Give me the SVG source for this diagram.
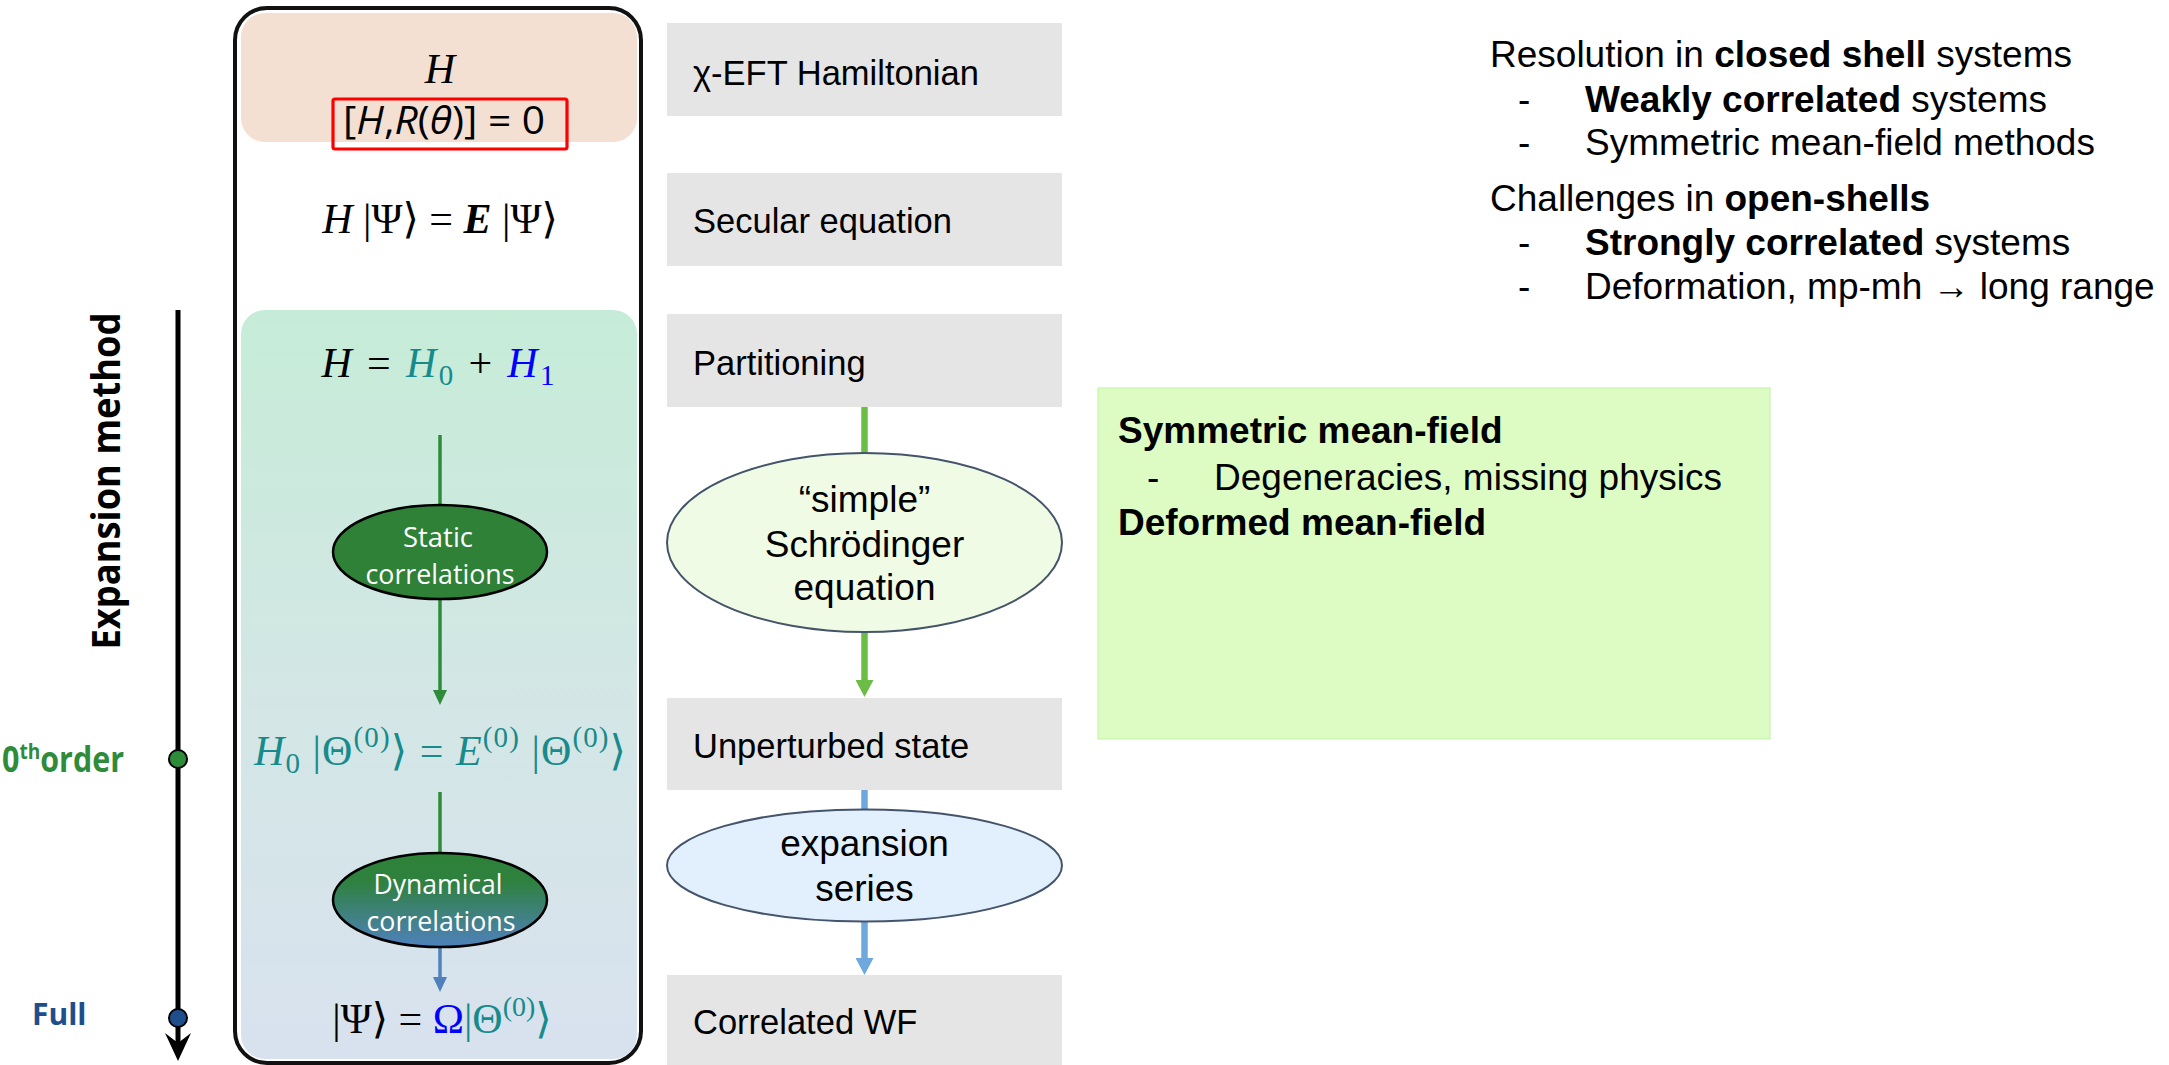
<svg xmlns="http://www.w3.org/2000/svg" width="2169" height="1065" viewBox="0 0 2169 1065">
  <style>
    .lbl{font-family:"Liberation Sans",Arial,sans-serif;font-size:34.5px;fill:#000}
    .gbox{fill:#e5e5e5}
    .ell{stroke:#44546a;stroke-width:2}
    .etxt{font-family:"Liberation Sans",Arial,sans-serif;font-size:37px;fill:#000;text-anchor:middle}
    .math{font-family:"Liberation Serif","DejaVu Serif",serif;font-size:42px;fill:#000;text-anchor:middle}
    .it{font-style:italic}
    .teal{fill:#178b8b}
    .blue{fill:#0000ff}
    .corr{font-family:"Open Sans","Liberation Sans",sans-serif;font-size:28px;fill:#fff;text-anchor:middle}
    .note{font-family:"Liberation Sans",Arial,sans-serif;font-size:37px;fill:#000}
    .b{font-weight:bold}
    .axl{font-family:"Open Sans","Liberation Sans",sans-serif;font-weight:bold}
  </style>
  <defs>
    <linearGradient id="innerGrad" x1="0" y1="0" x2="0" y2="1">
      <stop offset="0" stop-color="#c6ecd8"/>
      <stop offset="0.55" stop-color="#d4e6e6"/>
      <stop offset="1" stop-color="#d8e2ef"/>
    </linearGradient>
    <linearGradient id="dynGrad" x1="0" y1="0" x2="0" y2="1">
      <stop offset="0" stop-color="#2e8137"/>
      <stop offset="0.3" stop-color="#2f813f"/>
      <stop offset="1" stop-color="#4f81bd"/>
    </linearGradient>
    <marker id="mGreenDk" markerUnits="userSpaceOnUse" viewBox="0 0 15 14" markerWidth="15" markerHeight="14" refX="0" refY="7" orient="auto">
      <path d="M0,0 L15,7 L0,14 z" fill="#2e8b3a"/>
    </marker>
    <marker id="mBlueDk" markerUnits="userSpaceOnUse" viewBox="0 0 15 14" markerWidth="15" markerHeight="14" refX="0" refY="7" orient="auto">
      <path d="M0,0 L15,7 L0,14 z" fill="#4f81bd"/>
    </marker>
    <marker id="mGreenLt" markerUnits="userSpaceOnUse" viewBox="0 0 17 18" markerWidth="17" markerHeight="18" refX="0" refY="9" orient="auto">
      <path d="M0,0 L17,9 L0,18 z" fill="#6cbd45"/>
    </marker>
    <marker id="mBlueLt" markerUnits="userSpaceOnUse" viewBox="0 0 17 18" markerWidth="17" markerHeight="18" refX="0" refY="9" orient="auto">
      <path d="M0,0 L17,9 L0,18 z" fill="#6fa8dc"/>
    </marker>
  </defs>

  <!-- method panel background -->
  <g id="method-panel">
    <rect x="235" y="8" width="406" height="1055" rx="32" fill="#fff" stroke="#111" stroke-width="4"/>
    <rect x="241" y="13" width="396" height="129" rx="24" fill="#f3e0d2"/>
    <rect x="241" y="310" width="396" height="749" rx="24" fill="url(#innerGrad)"/>
  </g>

  <!-- expansion axis -->
  <g id="axis">
    <line x1="178" y1="310" x2="178" y2="1045" stroke="#000" stroke-width="5"/>
    <path d="M165,1033 L178,1061 L191,1033 L178,1043 z" fill="#000"/>
    <text class="axl" x="120" y="481" font-size="40" text-anchor="middle" textLength="337" lengthAdjust="spacingAndGlyphs" transform="rotate(-90 120 481)">Expansion method</text>
  </g>
  <g id="order-zero">
    <circle cx="178" cy="759" r="9" fill="#2e8b3a" stroke="#000" stroke-width="2"/>
    <text class="axl" x="2" y="772" font-size="35" fill="#2e8b3a" textLength="122" lengthAdjust="spacingAndGlyphs">0<tspan font-size="22" dy="-13">th</tspan><tspan dy="13">order</tspan></text>
  </g>
  <g id="order-full">
    <circle cx="178" cy="1018" r="9" fill="#1f4e8c" stroke="#000" stroke-width="2"/>
    <text class="axl" x="32" y="1025" font-size="30" fill="#1f4e8c">Full</text>
  </g>

  <!-- connectors -->
  <g id="connectors" fill="none">
    <line x1="440" y1="435" x2="440" y2="690" stroke="#2e8b3a" stroke-width="3.5" marker-end="url(#mGreenDk)"/>
    <line x1="440" y1="792" x2="440" y2="856" stroke="#2e8b3a" stroke-width="3.5"/>
    <line x1="440" y1="945" x2="440" y2="977" stroke="#4f81bd" stroke-width="3.5" marker-end="url(#mBlueDk)"/>
    <line x1="864.5" y1="407" x2="864.5" y2="455" stroke="#6cbd45" stroke-width="6.5"/>
    <line x1="864.5" y1="630" x2="864.5" y2="680" stroke="#6cbd45" stroke-width="6.5" marker-end="url(#mGreenLt)"/>
    <line x1="864.5" y1="790" x2="864.5" y2="811" stroke="#6fa8dc" stroke-width="6.5"/>
    <line x1="864.5" y1="920" x2="864.5" y2="958" stroke="#6fa8dc" stroke-width="6.5" marker-end="url(#mBlueLt)"/>
  </g>

  <!-- equations in the method panel -->
  <g id="hamiltonian">
    <text class="math it" x="440" y="83" font-size="40">H</text>
    <rect x="333" y="99" width="234" height="50" rx="2" fill="none" stroke="#ff0000" stroke-width="3.2"/>
    <text x="444" y="134" font-family="'Open Sans','Liberation Sans',sans-serif" font-size="39" text-anchor="middle" textLength="202" lengthAdjust="spacingAndGlyphs">[<tspan font-style="italic">H</tspan>,<tspan font-style="italic">R</tspan>(<tspan font-style="italic">θ</tspan>)] = 0</text>
  </g>
  <g id="secular">
    <text class="math" x="440" y="233"><tspan class="it">H</tspan> |Ψ⟩ = <tspan class="it" font-weight="bold">E</tspan> |Ψ⟩</text>
  </g>
  <g id="partition">
    <text class="math" x="438" y="377" font-size="44" textLength="233" lengthAdjust="spacing"><tspan class="it">H</tspan> = <tspan class="it teal">H</tspan><tspan class="teal" font-size="29" dy="8">0</tspan><tspan dy="-8"> + </tspan><tspan class="it blue">H</tspan><tspan class="blue" font-size="29" dy="8">1</tspan></text>
  </g>
  <g id="static-corr">
    <ellipse cx="440" cy="552" rx="107" ry="47" fill="#2e8137" stroke="#000" stroke-width="2.5"/>
    <text class="corr" x="438" y="547" textLength="70" lengthAdjust="spacingAndGlyphs">Static</text>
    <text class="corr" x="440" y="584" textLength="149" lengthAdjust="spacingAndGlyphs">correlations</text>
  </g>
  <g id="unperturbed-eq">
    <text class="math teal" x="440" y="765" font-size="44" textLength="372" lengthAdjust="spacing"><tspan class="it">H</tspan><tspan font-size="29" dy="8">0</tspan><tspan dy="-8"> |Θ</tspan><tspan font-size="29" dy="-18">(0)</tspan><tspan dy="18">⟩ = </tspan><tspan class="it">E</tspan><tspan font-size="29" dy="-18">(0)</tspan><tspan dy="18"> |Θ</tspan><tspan font-size="29" dy="-18">(0)</tspan><tspan dy="18">⟩</tspan></text>
  </g>
  <g id="dynamical-corr">
    <ellipse cx="440" cy="900" rx="107" ry="47" fill="url(#dynGrad)" stroke="#000" stroke-width="2.5"/>
    <text class="corr" x="438" y="894" textLength="129" lengthAdjust="spacingAndGlyphs">Dynamical</text>
    <text class="corr" x="441" y="931" textLength="149" lengthAdjust="spacingAndGlyphs">correlations</text>
  </g>
  <g id="correlated-eq">
    <text class="math" x="442" y="1033">|Ψ⟩ = <tspan class="blue">Ω</tspan><tspan class="teal">|Θ</tspan><tspan class="teal" font-size="28" dy="-17">(0)</tspan><tspan class="teal" dy="17">⟩</tspan></text>
  </g>

  <!-- step labels -->
  <g id="step-hamiltonian">
    <rect class="gbox" x="667" y="23" width="395" height="93"/>
    <text class="lbl" x="693" y="85">χ-EFT Hamiltonian</text>
  </g>
  <g id="step-secular">
    <rect class="gbox" x="667" y="173" width="395" height="93"/>
    <text class="lbl" x="693" y="233">Secular equation</text>
  </g>
  <g id="step-partitioning">
    <rect class="gbox" x="667" y="314" width="395" height="93"/>
    <text class="lbl" x="693" y="375">Partitioning</text>
  </g>
  <g id="step-schrodinger">
    <ellipse class="ell" cx="864.5" cy="542.5" rx="197.5" ry="89.5" fill="#effbe4"/>
    <text class="etxt" x="864.5" y="512">“simple”</text>
    <text class="etxt" x="864.5" y="557">Schrödinger</text>
    <text class="etxt" x="864.5" y="600">equation</text>
  </g>
  <g id="step-unperturbed">
    <rect class="gbox" x="667" y="698" width="395" height="92"/>
    <text class="lbl" x="693" y="758">Unperturbed state</text>
  </g>
  <g id="step-expansion">
    <ellipse class="ell" cx="864.5" cy="865.5" rx="197.5" ry="56" fill="#e2effd"/>
    <text class="etxt" x="864.5" y="856">expansion</text>
    <text class="etxt" x="864.5" y="901">series</text>
  </g>
  <g id="step-correlated">
    <rect class="gbox" x="667" y="975" width="395" height="90"/>
    <text class="lbl" x="693" y="1034">Correlated WF</text>
  </g>

  <!-- mean-field note -->
  <g id="mean-field-note">
    <rect x="1098" y="388" width="672" height="351" fill="#dcfcc3" stroke="#c3f0a6" stroke-width="1"/>
    <text class="note b" x="1118" y="443">Symmetric mean-field</text>
    <text class="note" x="1147" y="490">-</text>
    <text class="note" x="1214" y="490">Degeneracies, missing physics</text>
    <text class="note b" x="1118" y="535">Deformed mean-field</text>
  </g>

  <!-- context notes -->
  <g id="context-notes">
    <text class="note" x="1490" y="67">Resolution in <tspan class="b">closed shell</tspan> systems</text>
    <text class="note" x="1518" y="112">-</text>
    <text class="note" x="1585" y="112"><tspan class="b">Weakly correlated</tspan> systems</text>
    <text class="note" x="1518" y="155">-</text>
    <text class="note" x="1585" y="155">Symmetric mean-field methods</text>
    <text class="note" x="1490" y="211">Challenges in <tspan class="b">open-shells</tspan></text>
    <text class="note" x="1518" y="255">-</text>
    <text class="note" x="1585" y="255"><tspan class="b">Strongly correlated</tspan> systems</text>
    <text class="note" x="1518" y="299">-</text>
    <text class="note" x="1585" y="299">Deformation, mp-mh → long range</text>
  </g>
</svg>
